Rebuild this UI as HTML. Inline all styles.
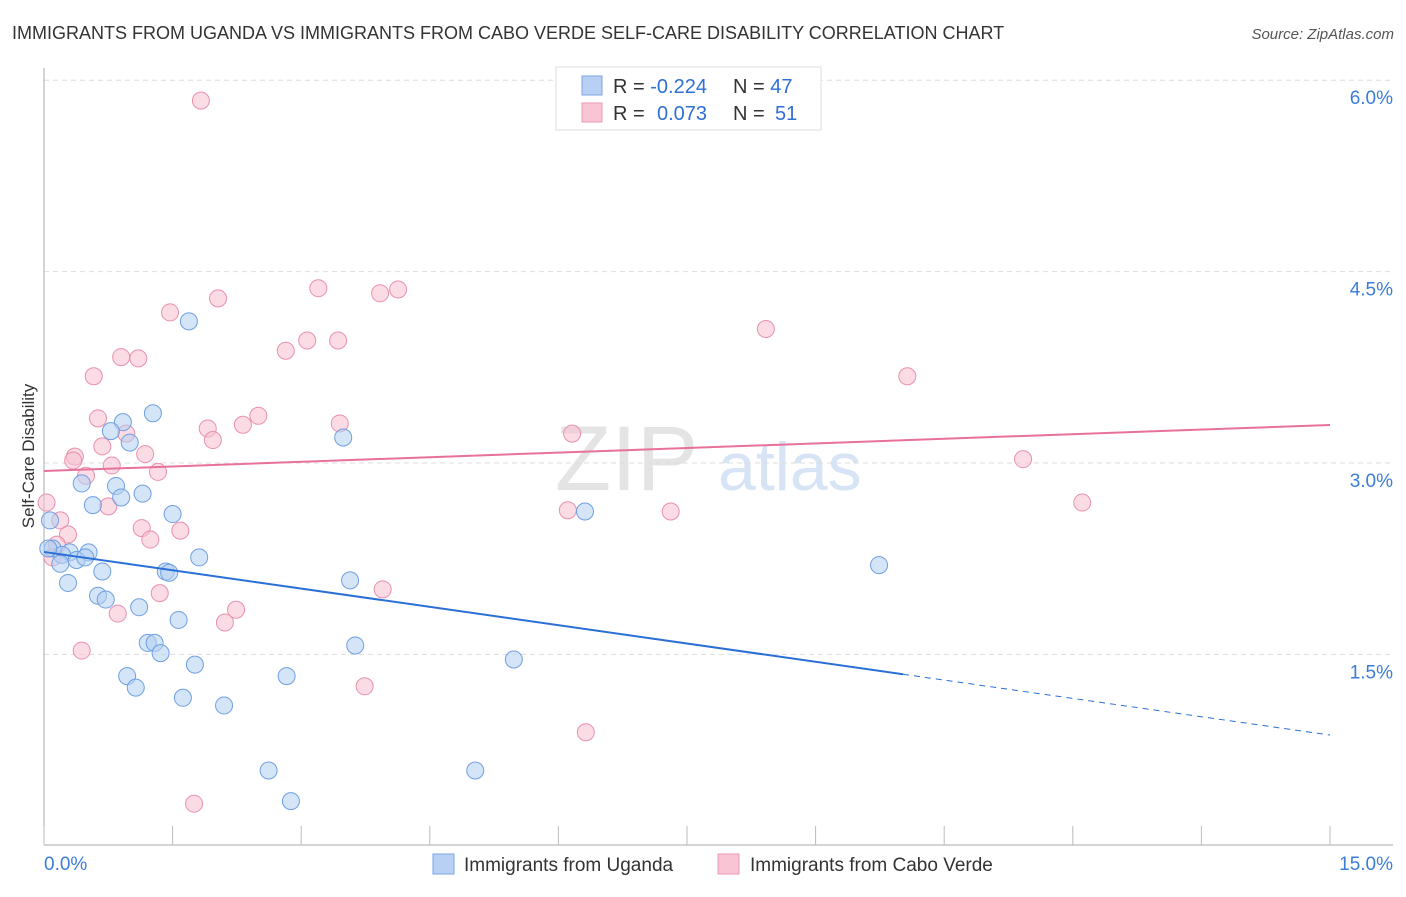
<!DOCTYPE html>
<html><head><meta charset="utf-8"><style>
body{margin:0;background:#fff;font-family:"Liberation Sans",sans-serif}
svg text{font-family:"Liberation Sans",sans-serif}
</style></head><body>
<svg id="chart" width="1406" height="892" xmlns="http://www.w3.org/2000/svg">
<text x="12" y="39" font-size="18" fill="#333">IMMIGRANTS FROM UGANDA VS IMMIGRANTS FROM CABO VERDE SELF-CARE DISABILITY CORRELATION CHART</text>
<text x="1394" y="39" font-size="15" fill="#555" text-anchor="end" font-style="italic">Source: ZipAtlas.com</text>
<g><text x="555" y="490" font-size="92" fill="#e4e4e4" font-family="Liberation Serif">ZIP</text><text x="718" y="490" font-size="68" fill="#d6e4f5">atlas</text></g>
<g id="grid"></g>
<g id="axes"></g>
<g id="marks"></g>
<text transform="translate(34,456) rotate(-90)" font-size="17" fill="#333" text-anchor="middle">Self-Care Disability</text>
<g>
<rect x="556" y="67" width="265" height="63" fill="#fff" stroke="#ddd"/>
<rect x="582" y="76" width="20" height="19" fill="#b7d0f3" stroke="#7aa6e2"/>
<rect x="582" y="103" width="20" height="19" fill="#f9c5d4" stroke="#eb9ab4"/>
<text x="613" y="93" font-size="20" fill="#333">R = <tspan fill="#2f6fd6">-0.224</tspan></text>
<text x="733" y="93" font-size="20" fill="#333">N = <tspan fill="#2f6fd6">47</tspan></text>
<text x="613" y="120" font-size="20" fill="#333">R = <tspan fill="#2f6fd6" x="657">0.073</tspan></text>
<text x="733" y="120" font-size="20" fill="#333">N = <tspan fill="#2f6fd6" x="775">51</tspan></text>
</g>
<g>
<rect x="433" y="854" width="21" height="20" fill="#b7d0f3" stroke="#7aa6e2"/>
<text x="464" y="871" font-size="19" fill="#333">Immigrants from Uganda</text>
<rect x="718" y="854" width="21" height="20" fill="#f9c5d4" stroke="#eb9ab4"/>
<text x="750" y="871" font-size="19" fill="#333">Immigrants from Cabo Verde</text>
</g>
</svg>
<script>
const blueX=[1.69,1.27,0.92,0.78,1.00,3.49,0.44,0.84,1.15,0.90,0.57,1.50,6.31,0.07,0.10,0.30,0.52,0.21,0.38,0.48,0.19,1.81,1.42,1.46,0.68,0.28,3.57,0.63,0.72,1.11,9.74,1.57,1.21,1.29,1.36,3.63,1.76,5.48,0.97,2.83,1.07,1.62,2.10,2.62,5.03,2.88,0.05];
const blueY=[4.11,3.39,3.32,3.25,3.16,3.20,2.84,2.82,2.76,2.73,2.67,2.60,2.62,2.55,2.33,2.30,2.30,2.28,2.24,2.26,2.21,2.26,2.15,2.14,2.15,2.06,2.08,1.96,1.93,1.87,2.20,1.77,1.59,1.59,1.51,1.57,1.42,1.46,1.33,1.33,1.24,1.16,1.10,0.59,0.59,0.35,2.33];
const pinkX=[1.83,3.20,4.13,3.92,2.03,1.47,8.42,3.07,3.43,2.82,0.90,1.10,0.58,10.07,2.50,0.63,2.32,3.45,1.91,0.96,1.97,6.16,0.68,1.18,0.36,0.34,11.42,0.79,1.33,0.49,0.03,12.11,0.75,6.11,7.31,0.19,1.14,1.59,0.28,1.24,0.15,0.10,1.35,3.95,2.24,0.86,2.11,0.44,3.74,6.32,1.75];
const pinkY=[5.84,4.37,4.36,4.33,4.29,4.18,4.05,3.96,3.96,3.88,3.83,3.82,3.68,3.68,3.37,3.35,3.30,3.31,3.27,3.23,3.18,3.23,3.13,3.07,3.05,3.02,3.03,2.98,2.93,2.90,2.69,2.69,2.66,2.63,2.62,2.55,2.49,2.47,2.44,2.40,2.36,2.26,1.98,2.01,1.85,1.82,1.75,1.53,1.25,0.89,0.33];
const blueTrend=[2.303,0.868];
const pinkTrend=[2.937,3.298];
const blueSolidEnd=10.02;
const yTicks=[1.5,3.0,4.5,6.0];
const yTickLabels=["1.5%","3.0%","4.5%","6.0%"];
const xTicks=[0,1.5,3,4.5,6,7.5,9,10.5,12,13.5,15];
const NS="http://www.w3.org/2000/svg";
const X=v=>44+v*(1286/15);
const Y=v=>463-(v-3)*127.6;
function mk(tag,attrs,parent){const e=document.createElementNS(NS,tag);for(const k in attrs)e.setAttribute(k,attrs[k]);document.getElementById(parent).appendChild(e);return e;}
yTicks.forEach((t,i)=>{
 const g=mk('line',{x1:44,x2:1393,y1:Y(t),y2:Y(t),stroke:'#ddd','stroke-dasharray':'5,4'},'grid');
 
 
 const l=mk('text',{x:1393,y:Y(t)+24,'font-size':19,fill:'#3b7dd8','text-anchor':'end'},'axes');
 l.textContent=yTickLabels[i];
 
 
});
const ya=mk('line',{x1:44,x2:44,y1:68,y2:845,stroke:'#aaa'},'axes');


const xa=mk('line',{x1:44,x2:1393,y1:845,y2:845,stroke:'#aaa'},'axes');


xTicks.forEach(t=>{const k=mk('line',{x1:X(t),x2:X(t),y1:826,y2:845,stroke:'#bbb'},'axes');
 
 });
const x0=mk('text',{x:44,y:870,'font-size':19,fill:'#3b7dd8'},'axes');x0.textContent='0.0%';


const x1=mk('text',{x:1393,y:870,'font-size':19,fill:'#3b7dd8','text-anchor':'end'},'axes');x1.textContent='15.0%';


function pts(xs,ys,fill,stroke,name){xs.forEach((x,i)=>{const c=mk('circle',{cx:X(x),cy:Y(ys[i]),r:8.5,fill:fill,'fill-opacity':0.55,stroke:stroke,'stroke-width':1},'marks');
 
 });}
pts(pinkX,pinkY,'#f7bfd0','#e990ae','point-cabo-verde');
pts(blueX,blueY,'#b3cff3','#6f9fe0','point-uganda');
const bAt=x=>blueTrend[0]+(blueTrend[1]-blueTrend[0])*x/15;
const bl=mk('line',{x1:X(0),y1:Y(bAt(0)),x2:X(blueSolidEnd),y2:Y(bAt(blueSolidEnd)),stroke:'#2a6fd6','stroke-width':2},'marks');


const bd=mk('line',{x1:X(blueSolidEnd),y1:Y(bAt(blueSolidEnd)),x2:X(15),y2:Y(bAt(15)),stroke:'#2a6fd6','stroke-width':1,'stroke-dasharray':'6,5'},'marks');


const pl=mk('line',{x1:X(0),y1:Y(pinkTrend[0]),x2:X(15),y2:Y(pinkTrend[1]),stroke:'#e8719a','stroke-width':2},'marks');


</script>
</body></html>
